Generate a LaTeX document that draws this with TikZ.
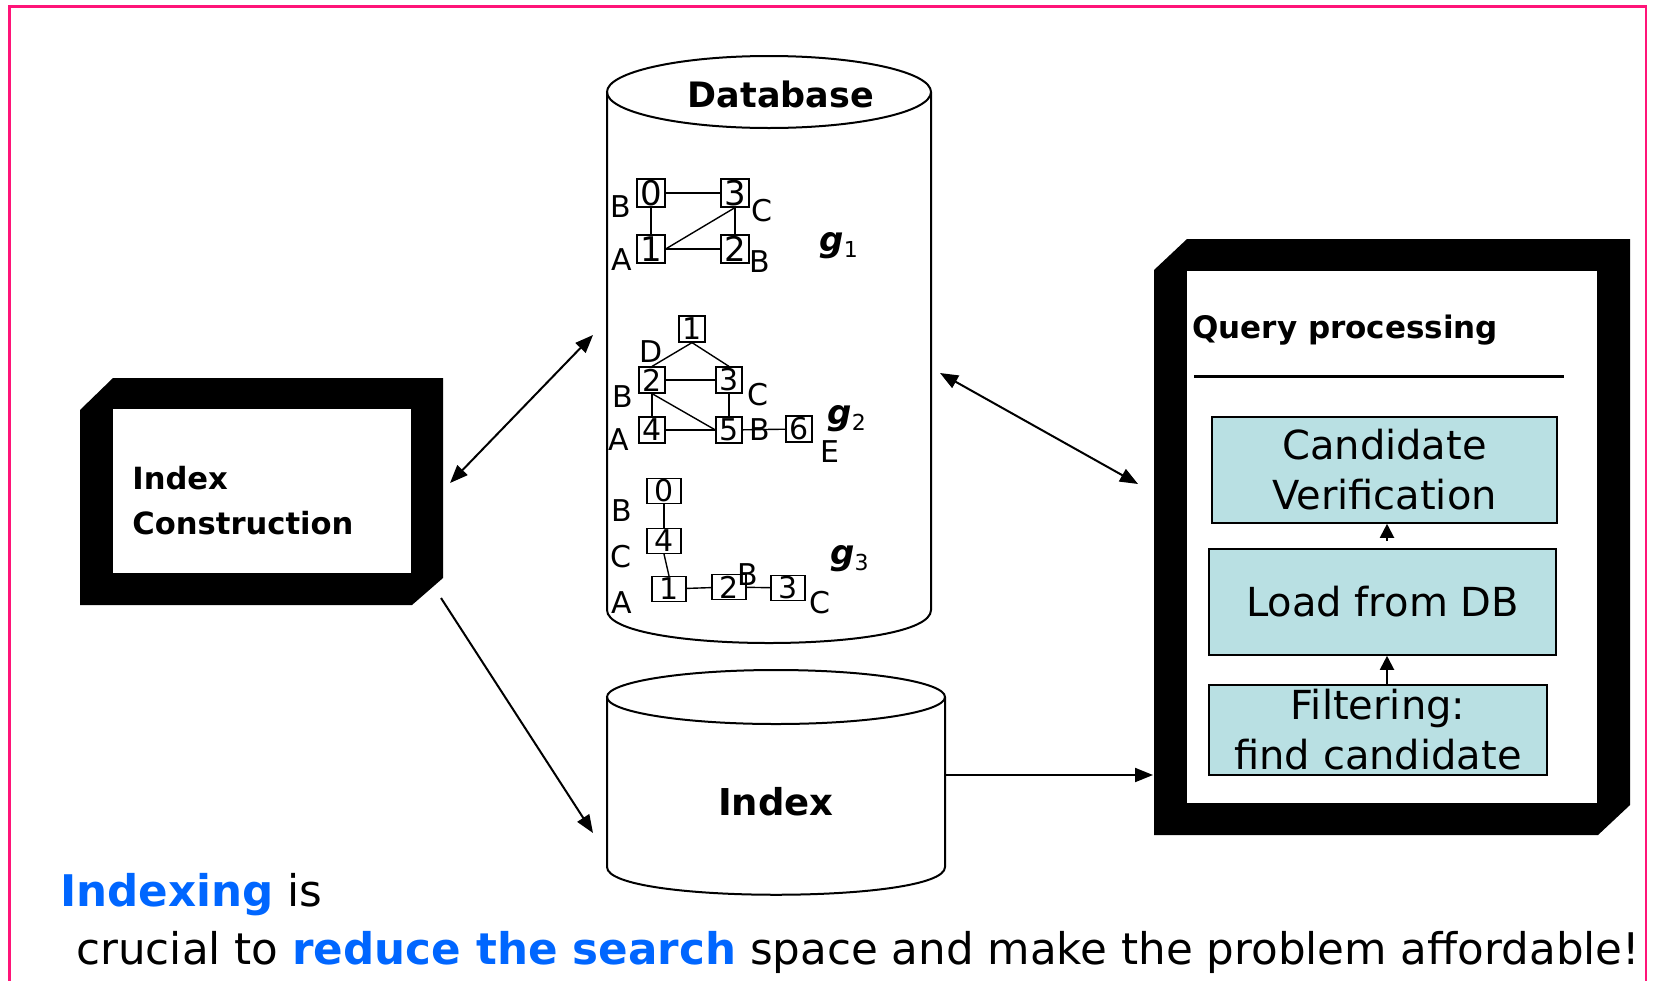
\documentclass[tikz,border=0pt]{standalone}
\usepackage{fontspec}
\setmainfont{DejaVu Sans}
\usetikzlibrary{arrows.meta}
\definecolor{pinkb}{RGB}{255,20,120}
\definecolor{bluet}{RGB}{0,102,255}
\definecolor{cyanbox}{RGB}{185,224,227}
\newcommand{\fsz}[2]{\fontsize{#1}{#2}\selectfont}
\begin{document}
\begin{tikzpicture}[x=0.5pt,y=-0.5pt,
  conn/.style={line width=1pt,-{Triangle[length=9pt,width=7pt]}},
  dconn/.style={line width=1pt,{Triangle[length=9pt,width=7pt]}-{Triangle[length=9pt,width=7pt]}},
  sconn/.style={line width=1pt,-{Triangle[length=7pt,width=7pt]}},
  cyl/.style={line width=1pt},
  qbox/.style={draw, line width=0.8pt, fill=cyanbox, inner sep=0pt, align=center, font=\fsz{20}{25}},
  gba/.style={draw, line width=0.6pt, inner sep=0pt, minimum width=14pt, minimum height=14pt, font=\fsz{17}{17}},
  gbb/.style={draw, line width=0.6pt, inner sep=0pt, minimum width=13pt, minimum height=13pt, font=\fsz{15}{15}},
  gbc/.style={draw, line width=0.6pt, inner sep=0pt, minimum width=17pt, minimum height=12.5pt, font=\fsz{15}{15}},
  lbl/.style={inner sep=0pt, font=\fsz{15}{15}},
  glbl/.style={anchor=west, inner sep=0pt, font=\bfseries\itshape\fsz{17}{17}},
  gedge/.style={line width=0.7pt},
  frame/.style={fill=white, inner sep=0pt},
  btxt/.style={anchor=base west, inner sep=0pt, font=\fsz{21.8}{26}}
]
\useasboundingbox (0,0) rectangle (1653,980);
\draw[pinkb, line width=1.3pt] (9.5,6.5) rectangle (1646,1000);

% ---------- Index Construction frame ----------
\fill[black] (80,410) -- (113,378) -- (443,378) -- (443,578) -- (412,605) -- (80,605) -- cycle;
\node[frame, minimum width=149pt, minimum height=82pt] (icbox) at (262,491) {};
\node[anchor=west, inner sep=0pt, align=left, font=\bfseries\fsz{15.3}{22.5}] (ict) at (132,501) {Index\\Construction};

% ---------- Query processing frame ----------
\fill[black] (1154,270) -- (1187,239) -- (1630,239) -- (1630,805) -- (1598,835) -- (1154,835) -- cycle;
\node[frame, minimum width=205pt, minimum height=266pt] (qpbox) at (1392,537) {};
\node[anchor=base west, inner sep=0pt, font=\bfseries\fsz{15.5}{18}] (qpt) at (1192,338) {Query processing};
\draw[line width=1.5pt] (1194,376) -- (1564,376);
\node[qbox, minimum width=172.5pt, minimum height=53pt] (cv) at (1384.5,470) {Candidate\\Verification};
\node[qbox, minimum width=173.5pt, minimum height=53pt] (ld) at (1382.5,602) {Load from DB};
\node[qbox, minimum width=169pt, minimum height=45pt] (fl) at (1378,730) {Filtering:\\find candidate};
\coordinate (ax) at (1387,0);
\draw[sconn] (fl.north -| ax) -- (ld.south -| ax);
\draw[sconn, shorten <=3.5pt] (ld.north -| ax) -- (cv.south -| ax);

% ---------- Database cylinder ----------
\draw[cyl, fill=white] (607,92) -- (607,610) .. controls (607,654) and (931,654) .. (931,610) -- (931,92);
\draw[cyl] (769,92) ellipse [x radius=162, y radius=36];
\node[anchor=base, inner sep=0pt, font=\bfseries\fsz{17.5}{20}] (dbt) at (781,107) {Database};

% g1
\node[gba] (g1n0) at (651,193) {0};
\node[gba] (g1n3) at (735,193) {3};
\node[gba] (g1n1) at (651,249) {1};
\node[gba] (g1n2) at (735,249) {2};
\draw[gedge] (g1n0) -- (g1n3);
\draw[gedge] (g1n0) -- (g1n1);
\draw[gedge] (g1n3) -- (g1n2);
\draw[gedge] (g1n1) -- (g1n2);
\draw[gedge] (g1n1.east) -- (g1n3.south);
\node[lbl] (g1l0) at (621,207) {B};
\node[lbl] (g1l3) at (762,211) {C};
\node[lbl] (g1l1) at (622,260) {A};
\node[lbl] (g1l2) at (760,262) {B};
\node[glbl] (g1l) at (819,246) {g\raisebox{-3pt}{\mdseries\upshape\fsz{11}{11}1}};

% g2
\node[gbb] (g2n1) at (692,329) {1};
\node[gbb] (g2n2) at (652,380) {2};
\node[gbb] (g2n3) at (729,380) {3};
\node[gbb] (g2n4) at (652,430) {4};
\node[gbb] (g2n5) at (729,430) {5};
\node[gbb] (g2n6) at (799,429) {6};
\draw[gedge] (g2n1.south) -- (g2n2.north);
\draw[gedge] (g2n1.south) -- (g2n3.north);
\draw[gedge] (g2n2) -- (g2n3);
\draw[gedge] (g2n2) -- (g2n4);
\draw[gedge] (g2n2.south) -- (g2n5.west);
\draw[gedge] (g2n3) -- (g2n5);
\draw[line width=1.2pt] (g2n4) -- (g2n5);
\draw[gedge] (g2n5) -- (g2n6);
\node[lbl] (g2l1) at (651,352) {D};
\node[lbl] (g2l2) at (623,397) {B};
\node[lbl] (g2l3) at (758,395) {C};
\node[lbl] (g2l4) at (619,440) {A};
\node[lbl] (g2l5) at (760,430) {B};
\node[lbl] (g2l6) at (830,452) {E};
\node[glbl] (g2l) at (827,419) {g\raisebox{-3pt}{\mdseries\upshape\fsz{11}{11}2}};

% g3
\node[gbc] (g3n0) at (664,491) {0};
\node[gbc] (g3n4) at (664,541) {4};
\node[gbc] (g3n1) at (669,589) {1};
\node[gbc] (g3n2) at (729,587) {2};
\node[gbc] (g3n3) at (788,588) {3};
\draw[gedge] (g3n0) -- (g3n4);
\draw[gedge] (g3n4.south) -- (g3n1.north);
\draw[gedge] (g3n1) -- (g3n2);
\draw[gedge] (g3n2) -- (g3n3);
\node[lbl] (g3l0) at (622,511) {B};
\node[lbl] (g3l4) at (621,557) {C};
\node[lbl] (g3l1) at (622,603) {A};
\node[lbl] (g3l2) at (748,575) {B};
\node[lbl] (g3l3) at (820,603) {C};
\node[glbl] (g3l) at (830,559) {g\raisebox{-3pt}{\mdseries\upshape\fsz{11}{11}3}};

% ---------- Index cylinder ----------
\draw[cyl, fill=white] (607,697) -- (607,867) .. controls (607,904) and (945,904) .. (945,867) -- (945,697);
\draw[cyl] (776,697) ellipse [x radius=169, y radius=27];
\node[anchor=base, inner sep=0pt, font=\bfseries\fsz{18.5}{20}] (idxt) at (776,815) {Index};

% ---------- connectors ----------
\coordinate (icNE) at (450,483);
\coordinate (dbW) at (593,335);
\coordinate (dbE) at (940,373);
\coordinate (qpW) at (1138,484);
\coordinate (icSE) at (441,598);
\coordinate (idxW) at (593,833);
\coordinate (idxE) at (946,775);
\coordinate (qpSW) at (1153,775);
\draw[dconn] (icNE) -- (dbW);
\draw[dconn] (dbE) -- (qpW);
\draw[conn] (icSE) -- (idxW);
\draw[conn] (idxE) -- (qpSW);

% ---------- bottom text ----------
\node[btxt] (t1) at (60,906) {\textcolor{bluet}{\bfseries Indexing} is};
\node[btxt] (t2) at (76,964) {crucial to \textcolor{bluet}{\bfseries reduce the search} space and make the problem affordable!};
\end{tikzpicture}
\end{document}
